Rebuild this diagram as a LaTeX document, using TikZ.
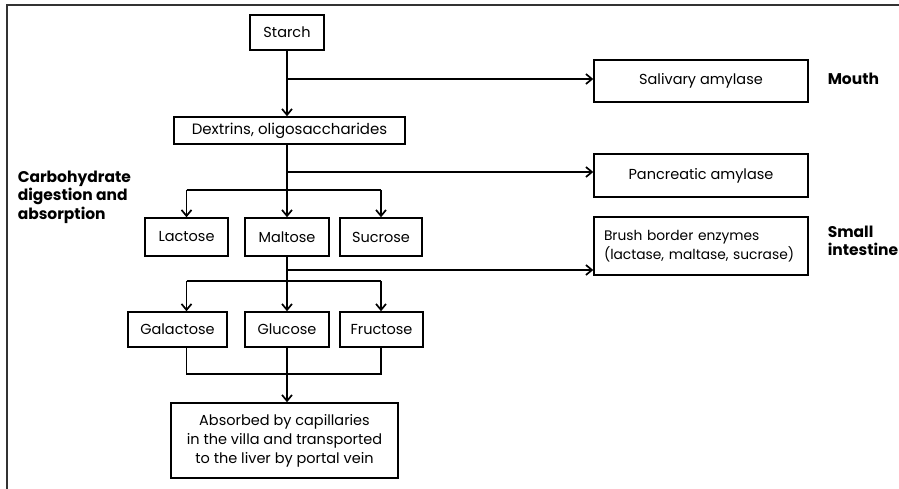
\documentclass[tikz,border=0pt]{standalone}
\usepackage{fontspec}
\setmainfont{Poppins}
\usetikzlibrary{arrows.meta}
\begin{document}
\begin{tikzpicture}[x=1pt,y=-1pt,line width=1.5pt,
  box/.style={draw,line width=1.5pt,inner sep=0pt,font=\fontsize{14.5}{19}\selectfont,align=center},
  arr/.style={-{Straight Barb[length=6pt,width=10pt,line width=1.7pt]}},
  lab/.style={font=\bfseries\fontsize{15.5}{18.5}\selectfont,align=left,anchor=west,inner sep=0pt}]
\useasboundingbox (0,0) rectangle (899,489);
\draw[line width=1.6pt,black!80] (7,489) -- (7,5) -- (899,5);
% nodes
\node[box,minimum width=74pt,minimum height=35pt] (starch) at (287,32.5) {Starch};
\node[box,minimum width=214pt,minimum height=42pt] (sal) at (701,81) {Salivary amylase};
\node[box,minimum width=231pt,minimum height=27pt,font=\fontsize{15}{19}\selectfont] (dex) at (289.5,130.5) {Dextrins, oligosaccharides};
\node[box,minimum width=214pt,minimum height=43pt] (pan) at (701,175.5) {Pancreatic amylase};
\node[box,minimum width=83pt,minimum height=38pt] (lac) at (186.5,237) {Lactose};
\node[box,minimum width=84pt,minimum height=38pt] (mal) at (287,237) {Maltose};
\node[box,minimum width=82pt,minimum height=38pt] (suc) at (381,237) {Sucrose};
\node[box,minimum width=214pt,minimum height=58pt,align=left,text width=194pt,font=\fontsize{13.8}{19}\selectfont] (bru) at (701,246) {Brush border enzymes\\(lactase, maltase, sucrase)};
\node[box,minimum width=99pt,minimum height=35pt] (gal) at (177.5,329.5) {Galactose};
\node[box,minimum width=84pt,minimum height=35pt] (glu) at (287,329.5) {Glucose};
\node[box,minimum width=83pt,minimum height=35pt] (fru) at (381.5,329.5) {Fructose};
\node[box,minimum width=227pt,minimum height=75pt] (abs) at (284.5,440.5) {Absorbed by capillaries\\in the villa and transported\\to the liver by portal vein};
% labels
\node[lab] (mouth) at (827,79) {Mouth};
\node[lab] (small) at (827,241) {Small\\intestine};
\node[lab] (carb) at (17,197) {Carbohydrate\\digestion and\\absorption};
% junction coordinates
\coordinate (b1) at (287,79);
\coordinate (b2) at (287,172);
\coordinate (bar1) at (287,190);
\coordinate (b3) at (287,270);
\coordinate (bar2) at (287,281);
\coordinate (bar3) at (287,374);
% connectors
\draw[arr] (starch.south) -- (starch.south |- dex.north);
\draw[arr] (b1) -- (b1 -| sal.west);
\draw (starch.south |- dex.south) -- (bar1);
\draw[arr] (b2) -- (b2 -| pan.west);
\draw (bar1 -| lac) -- (bar1 -| suc);
\draw[arr] (bar1 -| lac) -- (lac.north);
\draw[arr] (bar1) -- (mal.north);
\draw[arr] (bar1 -| suc) -- (suc.north);
\draw (mal.south) -- (bar2);
\draw[arr] (b3) -- (b3 -| bru.west);
\draw (bar2 -| lac) -- (bar2 -| suc);
\draw[arr] (bar2 -| lac) -- (lac |- gal.north);
\draw[arr] (bar2) -- (glu.north);
\draw[arr] (bar2 -| suc) -- (suc |- fru.north);
\draw (lac |- gal.south) -- (bar3 -| lac) -- (bar3 -| suc) -- (suc |- fru.south);
\draw (glu.south) -- (bar3);
\draw[arr] (bar3) -- (bar3 |- abs.north);
\end{tikzpicture}
\end{document}
